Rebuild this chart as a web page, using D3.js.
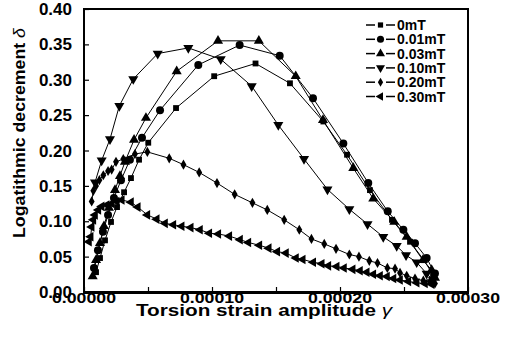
<!DOCTYPE html>
<html>
<head>
<meta charset="utf-8">
<script src="https://cdn.jsdelivr.net/npm/d3@7"></script>
<style>
  html, body { margin: 0; padding: 0; background: #fff; }
  svg { display: block; }
  text { font-family: "Liberation Sans", Arial, sans-serif; font-weight: bold; fill: #000; }
</style>
</head>
<body>
<svg id="chart" width="505" height="343"></svg>
<script>
// Strain amplitudes are given in units of 1e-5; deltas are the logarithmic decrement.
const series0mT_x = [0.94, 1.25, 1.64, 2.11, 2.58, 3.13, 3.67, 4.30, 5.02, 7.19, 10.17, 13.40, 16.09, 18.70, 20.55, 22.34, 24.06, 25.47, 26.56, 27.27];
const series0mT_y = [0.028, 0.048, 0.073, 0.099, 0.120, 0.141, 0.161, 0.187, 0.211, 0.260, 0.305, 0.323, 0.295, 0.241, 0.194, 0.144, 0.102, 0.071, 0.045, 0.024];

const series001mT_x = [0.78, 1.09, 1.48, 1.88, 2.34, 2.89, 3.59, 4.53, 5.94, 8.93, 12.16, 15.29, 17.89, 20.26, 22.21, 23.73, 24.95, 25.86, 26.77, 27.42];
const series001mT_y = [0.034, 0.059, 0.085, 0.109, 0.133, 0.158, 0.187, 0.218, 0.257, 0.321, 0.349, 0.334, 0.274, 0.210, 0.154, 0.114, 0.088, 0.069, 0.048, 0.026];

const series003mT_x = [0.68, 0.94, 1.25, 1.56, 1.95, 2.42, 2.81, 3.20, 3.91, 4.84, 7.24, 10.47, 13.66, 16.54, 18.67, 21.04, 22.60, 24.24, 25.21, 26.48, 27.16, 27.42];
const series003mT_y = [0.022, 0.045, 0.069, 0.093, 0.119, 0.144, 0.164, 0.184, 0.215, 0.246, 0.312, 0.355, 0.355, 0.305, 0.243, 0.175, 0.132, 0.099, 0.078, 0.045, 0.031, 0.020];

const series010mT_x = [0.86, 1.38, 2.03, 2.76, 3.85, 5.76, 8.15, 10.68, 13.10, 15.18, 17.19, 19.02, 20.73, 22.15, 23.38, 24.43, 25.16, 25.99, 26.77, 27.27];
const series010mT_y = [0.155, 0.186, 0.216, 0.263, 0.301, 0.337, 0.345, 0.329, 0.291, 0.236, 0.188, 0.145, 0.117, 0.096, 0.078, 0.065, 0.052, 0.042, 0.026, 0.017];

const series020mT_x = [0.60, 0.73, 0.94, 1.20, 1.51, 1.88, 2.16, 2.50, 3.07, 3.98, 4.95, 6.66, 7.77, 9.00, 10.39, 11.77, 13.16, 14.32, 15.64, 16.82, 17.77, 18.77, 19.69, 20.73, 21.48, 22.29, 22.93, 23.70, 24.30, 24.69, 25.21, 25.86, 26.51, 27.03, 27.42];
const series020mT_y = [0.128, 0.143, 0.150, 0.158, 0.165, 0.171, 0.173, 0.184, 0.188, 0.195, 0.198, 0.189, 0.180, 0.169, 0.154, 0.138, 0.126, 0.116, 0.102, 0.088, 0.075, 0.068, 0.061, 0.053, 0.050, 0.044, 0.041, 0.034, 0.033, 0.027, 0.023, 0.019, 0.016, 0.015, 0.012];

const series030mT_x = [0.39, 0.52, 0.60, 0.73, 0.86, 1.12, 1.38, 1.77, 2.16, 2.55, 2.95, 3.67, 4.20, 4.95, 5.68, 6.33, 6.98, 7.63, 8.34, 9.06, 9.79, 10.49, 11.35, 12.19, 12.84, 13.70, 14.43, 15.10, 15.78, 16.56, 17.09, 17.91, 18.57, 19.09, 19.74, 20.31, 20.99, 21.56, 22.09, 22.60, 23.13, 23.67, 24.18, 24.69, 25.34, 25.99, 26.64, 27.16];
const series030mT_y = [0.071, 0.078, 0.092, 0.102, 0.109, 0.116, 0.121, 0.123, 0.125, 0.128, 0.130, 0.127, 0.120, 0.109, 0.103, 0.097, 0.095, 0.093, 0.091, 0.088, 0.083, 0.082, 0.079, 0.074, 0.070, 0.066, 0.062, 0.057, 0.055, 0.048, 0.046, 0.042, 0.040, 0.037, 0.036, 0.034, 0.032, 0.030, 0.028, 0.025, 0.023, 0.022, 0.019, 0.017, 0.015, 0.013, 0.012, 0.011];

const seriesLabels = ["0mT", "0.01mT", "0.03mT", "0.10mT", "0.20mT", "0.30mT"];
const xTickValues = [0, 0.0001, 0.0002, 0.0003];
const xTickLabels = ["0.00000", "0.00010", "0.00020", "0.00030"];
const xMinorTicks = [0.00005, 0.00015, 0.00025];
const yTickValues = [0, 0.05, 0.10, 0.15, 0.20, 0.25, 0.30, 0.35, 0.40];
const yTickLabels = ["0.00", "0.05", "0.10", "0.15", "0.20", "0.25", "0.30", "0.35", "0.40"];

const seriesX = [series0mT_x, series001mT_x, series003mT_x, series010mT_x, series020mT_x, series030mT_x];
const seriesY = [series0mT_y, series001mT_y, series003mT_y, series010mT_y, series020mT_y, series030mT_y];

// marker shape per field: square, circle, up triangle, down triangle, diamond, left triangle
const markers = [
  { type: d3.symbolSquare, size: 34, rot: 0 },
  { type: d3.symbolCircle, size: 50, rot: 0 },
  { type: d3.symbolTriangle, size: 44, rot: 0 },
  { type: d3.symbolTriangle, size: 44, rot: 180 },
  { type: d3.symbolDiamond, size: 30, rot: 0 },
  { type: d3.symbolTriangle, size: 40, rot: -90 }
];

const svg = d3.select("#chart");
const plotLeft = 84, plotRight = 468, plotTop = 9, plotBottom = 292;

const x = d3.scaleLinear().domain([0, 0.0003]).range([plotLeft, plotRight]);
const y = d3.scaleLinear().domain([0, 0.40]).range([plotBottom, plotTop]);

const data = seriesX.map((xs, i) => xs.map((v, j) => ({ x: v * 1e-5, y: seriesY[i][j] })));

// frame
svg.append("rect")
  .attr("x", plotLeft).attr("y", plotTop)
  .attr("width", plotRight - plotLeft).attr("height", plotBottom - plotTop)
  .attr("fill", "none").attr("stroke", "#000").attr("stroke-width", 2);
svg.append("line")
  .attr("x1", plotLeft - 1).attr("x2", plotRight + 1)
  .attr("y1", plotBottom + 0.5).attr("y2", plotBottom + 0.5)
  .attr("stroke", "#000").attr("stroke-width", 3);

// ticks pointing inward
const xAxis = d3.axisTop(x).tickValues(xTickValues.concat(xMinorTicks)).tickSize(5).tickFormat("");
svg.append("g").attr("transform", `translate(0,${plotBottom})`).call(xAxis)
  .call(g => g.select(".domain").remove())
  .call(g => g.selectAll("line").attr("stroke-width", 1.2));

const yAxis = d3.axisRight(y).tickValues(yTickValues).tickSize(5).tickFormat("");
svg.append("g").attr("transform", `translate(${plotLeft},0)`).call(yAxis)
  .call(g => g.select(".domain").remove())
  .call(g => g.selectAll("line").attr("stroke-width", 1.2));

// tick labels
svg.append("g").selectAll("text").data(xTickValues).join("text")
  .attr("x", d => x(d)).attr("y", 303)
  .attr("text-anchor", "middle").attr("font-size", 15.5)
  .attr("textLength", 64).attr("lengthAdjust", "spacingAndGlyphs")
  .text((d, i) => xTickLabels[i]);

svg.append("g").selectAll("text").data(yTickValues).join("text")
  .attr("x", 72).attr("y", d => y(d)).attr("dy", "0.36em")
  .attr("text-anchor", "end").attr("font-size", 17)
  .text((d, i) => yTickLabels[i]);

// axis titles
const xt = svg.append("text").attr("x", 264).attr("y", 315.5)
  .attr("text-anchor", "middle").attr("font-size", 16)
  .attr("textLength", 256).attr("lengthAdjust", "spacingAndGlyphs");
xt.append("tspan").text("Torsion strain amplitude ");
xt.append("tspan").attr("font-style", "italic").attr("font-weight", "normal").text("γ");

const yt = svg.append("text")
  .attr("transform", "translate(25,133) rotate(-90)")
  .attr("text-anchor", "middle").attr("font-size", 17)
  .attr("textLength", 210).attr("lengthAdjust", "spacingAndGlyphs");
yt.append("tspan").text("Logatithmic decrement  ");
yt.append("tspan").attr("font-style", "italic").attr("font-weight", "normal").text("δ");

// lines and markers
const line = d3.line().x(d => x(d.x)).y(d => y(d.y));
const plot = svg.append("g");
data.forEach((pts, i) => {
  plot.append("path").datum(pts).attr("d", line)
    .attr("fill", "none").attr("stroke", "#000").attr("stroke-width", 1);
});
data.forEach((pts, i) => {
  const m = markers[i];
  const sym = d3.symbol().type(m.type).size(m.size);
  plot.append("g").selectAll("path").data(pts).join("path")
    .attr("d", sym)
    .attr("transform", d => `translate(${x(d.x)},${y(d.y)}) rotate(${m.rot})`)
    .attr("fill", "#000");
});

// legend
const legend = svg.append("g");
seriesLabels.forEach((lab, i) => {
  const ly = 25 + i * 14.3;
  const m = markers[i];
  legend.append("line").attr("x1", 366).attr("x2", 375).attr("y1", ly).attr("y2", ly)
    .attr("stroke", "#000").attr("stroke-width", 1.5);
  legend.append("line").attr("x1", 386).attr("x2", 395).attr("y1", ly).attr("y2", ly)
    .attr("stroke", "#000").attr("stroke-width", 1.5);
  legend.append("path").attr("d", d3.symbol().type(m.type).size(m.size * 0.8))
    .attr("transform", `translate(380.5,${ly}) rotate(${m.rot})`).attr("fill", "#000");
  legend.append("text").attr("x", 397).attr("y", ly).attr("dy", "0.36em")
    .attr("font-size", 14).text(lab);
});
</script>
</body>
</html>
